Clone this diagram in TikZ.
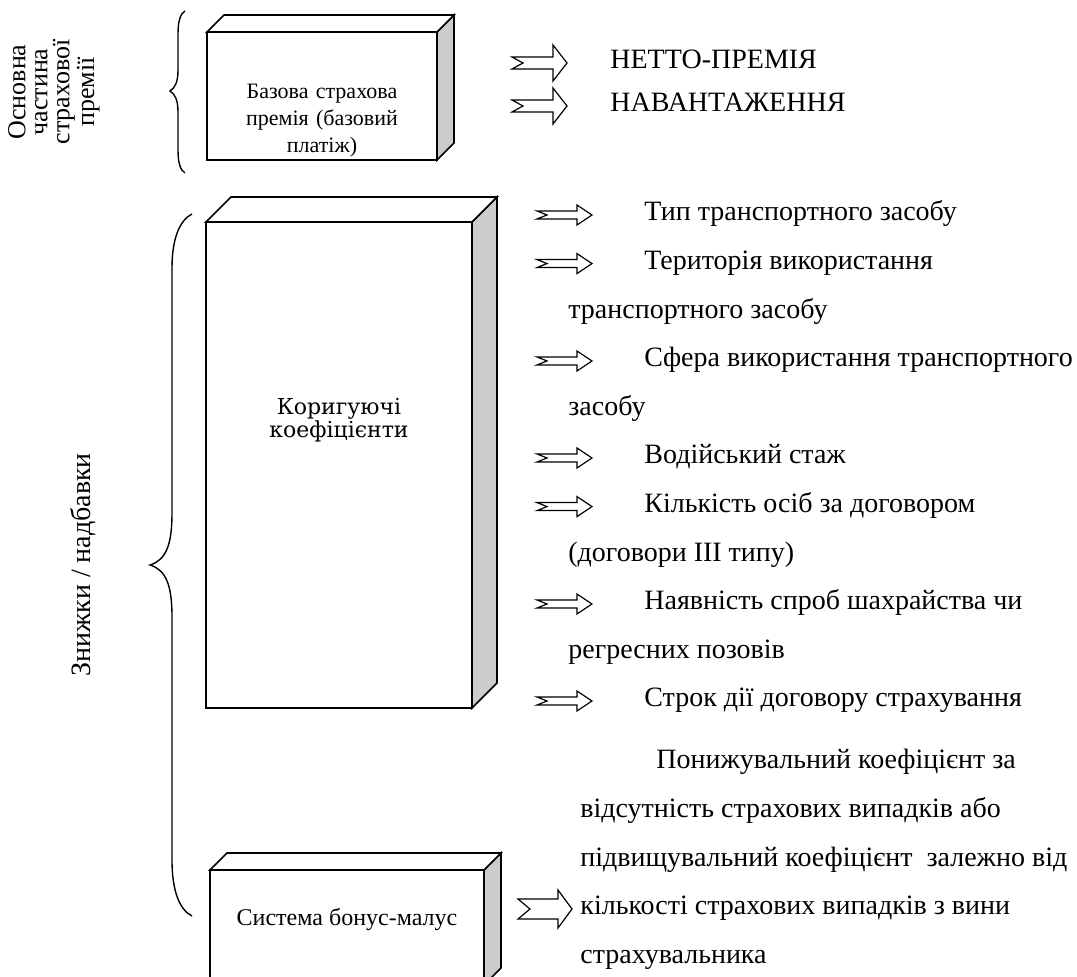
\documentclass[tikz,border=0pt]{standalone}
\usepackage{fontspec}
\setmainfont{Liberation Serif}
\newfontfamily\boxfont{DejaVu Serif}
\usetikzlibrary{positioning}

% front face, top face and grey side face of a flat box
\newcommand{\cuboid}[5]{%
  \draw[boxside] (#3,#2) -- ++(#5,-#5) -- (#3+#5,#4-#5) -- (#3,#4) -- cycle;
  \draw[boxface] (#1,#2) -- ++(#5,-#5) -- (#3+#5,#2-#5) -- (#3,#2) -- cycle;
  \draw[boxface] (#1,#2) rectangle (#3,#4);
}
% block arrow with notched tail: tail x, y, length, shaft, head, head length, notch
\newcommand{\fatarrow}[7]{%
  \draw[arrowshape] (#1,#2-#4) -- (#1+#3-#6,#2-#4) -- (#1+#3-#6,#2-#5)
    -- (#1+#3,#2) -- (#1+#3-#6,#2+#5) -- (#1+#3-#6,#2+#4)
    -- (#1,#2+#4) -- (#1+#7,#2) -- cycle;
}

\tikzset{
  boxface/.style={line width=0.8pt, fill=white},
  boxside/.style={line width=0.8pt, fill=black!20},
  arrowshape/.style={line width=0.6pt, fill=white},
  bracepath/.style={line width=0.7pt},
  item/.style={anchor=base west, inner sep=0pt, font=\fontsize{14}{16}\selectfont},
  boxtext/.style={align=center, inner sep=0pt, font=\fontsize{12}{13.5}\selectfont},
}

\begin{document}
\begin{tikzpicture}[x=0.5pt, y=-0.5pt]
\useasboundingbox (0,0) rectangle (1077,977);

% side labels
\node[rotate=90, align=center, inner sep=0pt,
  font=\fontsize{13}{11}\selectfont] (basic) at (54,92)
  {Основна\\частина\\страхової\\премії};
\node[rotate=90, inner sep=0pt, font=\fontsize{14}{16}\selectfont] (discount)
  at (83,565) {Знижки / надбавки};

% braces
\draw[bracepath] (185,11) .. controls (180,14) and (178,22) .. (178,34)
  -- (178,70) .. controls (178,82) and (175,88) .. (170,91)
  .. controls (175,94) and (178,100) .. (178,112)
  -- (178,150) .. controls (178,162) and (180,170) .. (185,173);
\draw[bracepath] (192,214) .. controls (180,220) and (172,238) .. (172,268)
  -- (172,513) .. controls (172,545) and (166,560) .. (150,565)
  .. controls (166,570) and (172,585) .. (172,617)
  -- (172,860) .. controls (172,892) and (180,910) .. (192,916);

% boxes
\cuboid{207}{32}{437}{160}{17}
\node[boxtext, text width=90pt, font=\fontsize{11}{13.5}\selectfont] (base)
  at (322,121) {Базова страхова премія (базовий платіж)};

\cuboid{206}{222}{472}{708}{25}
\node[align=center, inner sep=0pt, font=\boxfont\fontsize{11}{11.5}\selectfont]
  (coef) at (339,420) {Коригуючі\\коефіцієнти};

\cuboid{210}{870}{484}{985}{17}
\node[boxtext] (bonus) at (347,920) {Система бонус-малус};

% arrows to the components of the base premium
\fatarrow{512}{63}{55}{6}{18}{14}{11}
\fatarrow{512}{106}{55}{6}{18}{14}{11}
\node[item] (netto) at (610,69) {НЕТТО-ПРЕМІЯ};
\node[item] (load) at (610,112) {НАВАНТАЖЕННЯ};

% correcting factors
\foreach \y in {215,263.6,361,458,506.6,604,701}{
  \fatarrow{537}{\y}{55}{4}{10}{15}{10}
}

\node[item] (type) at (644,221) {Тип транспортного засобу};
\node[item] (area) at (644,269.6) {Територія використання};
\node[item] (area2) at (568,318.2) {транспортного засобу};
\node[item] (use) at (644,366.8) {Сфера використання транспортного};
\node[item] (use2) at (568,415.4) {засобу};
\node[item] (exp) at (644,464) {Водійський стаж};
\node[item] (persons) at (644,512.6) {Кількість осіб за договором};
\node[item] (persons2) at (568,561.2) {(договори ІІІ типу)};
\node[item] (fraud) at (644,609.8) {Наявність спроб шахрайства чи};
\node[item] (fraud2) at (568,658.4) {регресних позовів};
\node[item] (term) at (644,707) {Строк дії договору страхування};

% bonus-malus
\fatarrow{518}{909}{54}{10}{19}{14}{12}
\node[item] (bm1) at (656,769) {Понижувальний коефіцієнт за};
\node[item] (bm2) at (580,817.6) {відсутність страхових випадків або};
\node[item] (bm3) at (580,866.2) {підвищувальний коефіцієнт\ \ залежно від};
\node[item] (bm4) at (580,914.8) {кількості страхових випадків з вини};
\node[item] (bm5) at (580,963.4) {страхувальника};
\end{tikzpicture}
\end{document}
